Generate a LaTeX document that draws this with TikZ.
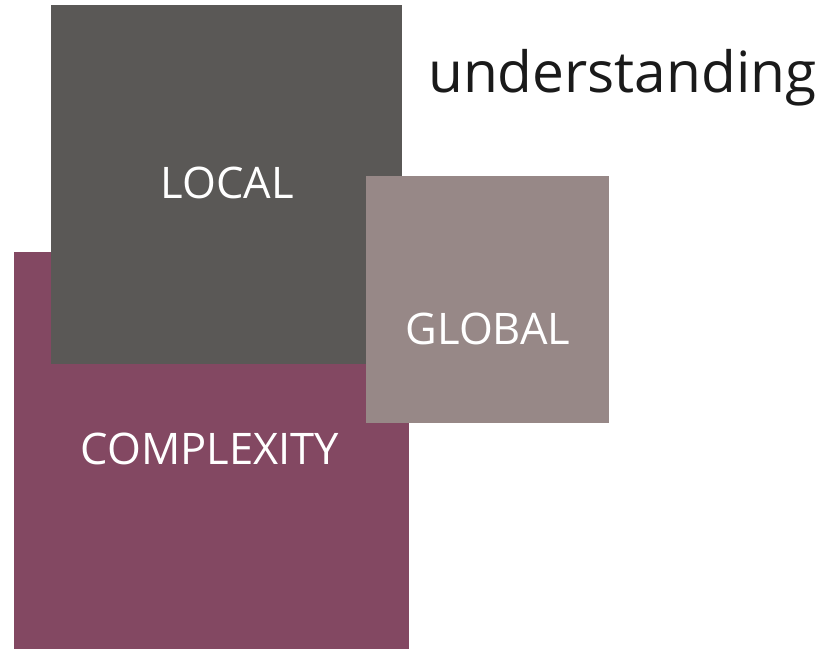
\documentclass[tikz,border=0pt]{standalone}
\usepackage{fontspec}
\setmainfont{Open Sans}
\usepackage{tikz}
\usetikzlibrary{positioning}

\definecolor{complexcol}{HTML}{834862}
\definecolor{localcol}{HTML}{5A5856}
\definecolor{globalcol}{HTML}{978887}
\definecolor{wordcol}{HTML}{1A1A1A}

\tikzset{
  square/.style = {inner sep=0pt, outer sep=0pt},
  label text/.style = {inner sep=0pt, anchor=base, text=white,
                   font=\fontsize{43.5}{50}\selectfont}
}

\begin{document}
\begin{tikzpicture}[x=1pt, y=-1pt]
    \useasboundingbox (0,0) rectangle (822,649);

    % three overlapping blocks, back to front
    \node[square, fill=complexcol, minimum width=395pt, minimum height=397pt] (complexity) at (211.5,450.5) {};
    \node[square, fill=localcol, minimum width=351pt, minimum height=359pt] (local) at (226.5,184.5) {};
    \node[square, fill=globalcol, minimum width=243pt, minimum height=247pt] (global) at (487.5,299.5) {};

    % block names, set on their baselines
    \node[label text] (complexitytext) at (210,464) {COMPLEXITY};
    \node[label text] (localtext) at (227.5,198) {LOCAL};
    \node[label text] (globaltext) at (488,344) {GLOBAL};

    \node[inner sep=0pt, anchor=base west, text=wordcol,
          font=\fontsize{56.8}{66}\selectfont] (word) at (428,92) {understanding};
\end{tikzpicture}
\end{document}
